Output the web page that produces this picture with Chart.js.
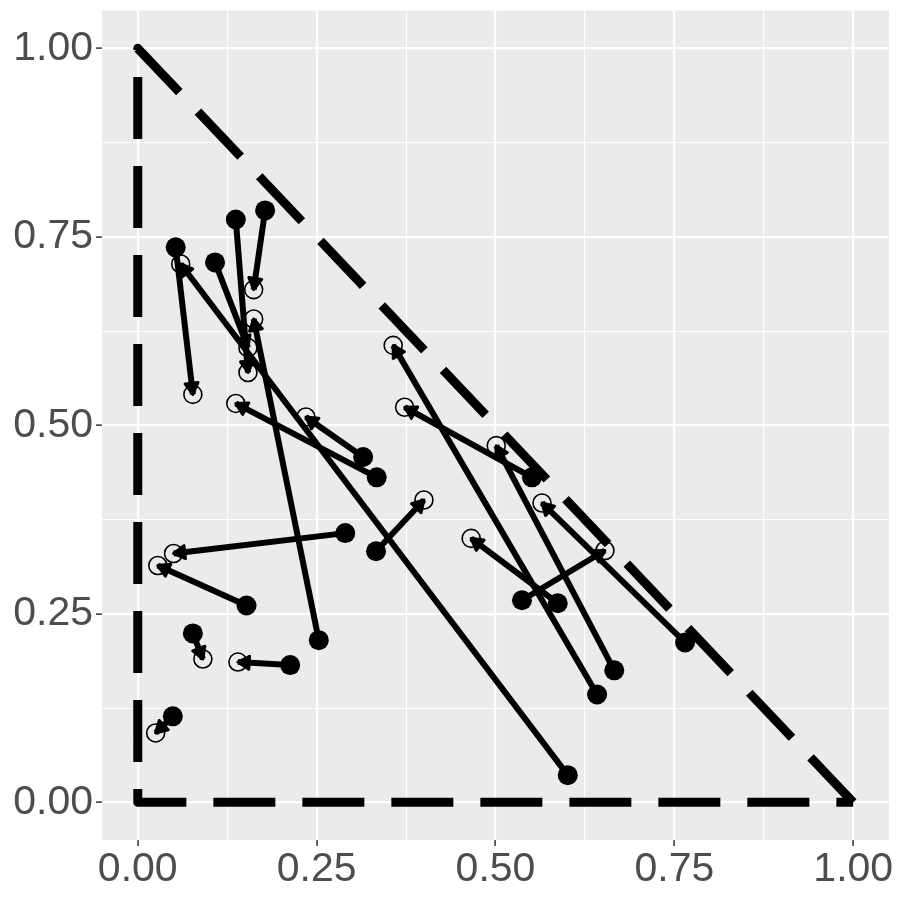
<!DOCTYPE html>
<html>
<head>
<meta charset="utf-8">
<script src="https://cdn.jsdelivr.net/npm/chart.js@4.4.1/dist/chart.umd.min.js"></script>
<style>
  body { margin: 0; background: #ffffff; }
</style>
</head>
<body>
<canvas id="arrowChart" width="900" height="900"></canvas>
<script>
// where each arrow starts (filled dots)
var fromX = [0.601, 0.053, 0.108, 0.137, 0.178, 0.253, 0.334, 0.315, 0.642, 0.551,
             0.666, 0.333, 0.587, 0.537, 0.765, 0.290, 0.152, 0.077, 0.213, 0.049];
var fromY = [0.036, 0.736, 0.716, 0.773, 0.785, 0.215, 0.431, 0.458, 0.143, 0.431,
             0.175, 0.333, 0.264, 0.268, 0.212, 0.357, 0.261, 0.224, 0.182, 0.114];
// where each arrow ends (open circles)
var toX = [0.060, 0.077, 0.154, 0.154, 0.162, 0.162, 0.137, 0.235, 0.357, 0.373,
           0.501, 0.400, 0.466, 0.653, 0.565, 0.050, 0.028, 0.091, 0.140, 0.025];
var toY = [0.714, 0.541, 0.603, 0.570, 0.680, 0.641, 0.529, 0.511, 0.606, 0.524,
           0.473, 0.401, 0.350, 0.334, 0.397, 0.330, 0.314, 0.190, 0.186, 0.092];

// simplex outline, one dashed path
var edgeX = [1, 0, 0, 1];
var edgeY = [0, 1, 0, 0];

var majorTicks = [0, 0.25, 0.5, 0.75, 1];
var minorTicks = [0.125, 0.375, 0.625, 0.875];
var tickLabels = ["0.00", "0.25", "0.50", "0.75", "1.00"];

function isMajor(v) {
  return majorTicks.some(function (m) { return Math.abs(m - v) < 1e-9; });
}

function toPoints(xs, ys) {
  return xs.map(function (x, i) { return { x: x, y: ys[i] }; });
}

var datasets = [];

datasets.push({
  type: "line",
  data: toPoints(edgeX, edgeY),
  borderColor: "#000000",
  borderWidth: 9,
  borderDash: [62, 27],
  borderCapStyle: "butt",
  borderJoinStyle: "round",
  pointRadius: 0,
  tension: 0,
  fill: false,
  order: 5,
});

for (var i = 0; i < fromX.length; i++) {
  datasets.push({
    type: "line",
    data: [{ x: fromX[i], y: fromY[i] }, { x: toX[i], y: toY[i] }],
    borderColor: "#000000",
    borderWidth: 6,
    borderCapStyle: "butt",
    pointRadius: 0,
    fill: false,
    order: 4,
  });
}

datasets.push({
  type: "scatter",
  data: toPoints(fromX, fromY),
  pointRadius: 10,
  pointBackgroundColor: "#000000",
  pointBorderWidth: 0,
  order: 3,
});

datasets.push({
  type: "scatter",
  data: toPoints(toX, toY),
  pointRadius: 9,
  pointBackgroundColor: "rgba(0,0,0,0)",
  pointBorderColor: "#000000",
  pointBorderWidth: 1.6,
  order: 2,
});

// grey panel behind everything
var panelBg = {
  id: "panelBg",
  beforeDraw: function (chart) {
    var a = chart.chartArea;
    var c = chart.ctx;
    c.save();
    c.fillStyle = "#EBEBEB";
    c.fillRect(a.left, a.top, a.right - a.left, a.bottom - a.top);
    c.restore();
  },
};

// closed arrow heads at the open-circle end
var arrowHeads = {
  id: "arrowHeads",
  afterDatasetsDraw: function (chart) {
    var xs = chart.scales.x;
    var ys = chart.scales.y;
    var c = chart.ctx;
    var len = 13;
    var half = Math.PI / 6;
    c.save();
    c.fillStyle = "#000000";
    c.strokeStyle = "#000000";
    c.lineWidth = 3;
    c.lineJoin = "round";
    for (var i = 0; i < toX.length; i++) {
      var x0 = xs.getPixelForValue(fromX[i]);
      var y0 = ys.getPixelForValue(fromY[i]);
      var x1 = xs.getPixelForValue(toX[i]);
      var y1 = ys.getPixelForValue(toY[i]);
      var a = Math.atan2(y1 - y0, x1 - x0);
      c.beginPath();
      c.moveTo(x1, y1);
      c.lineTo(x1 - len * Math.cos(a - half), y1 - len * Math.sin(a - half));
      c.lineTo(x1 - len * Math.cos(a + half), y1 - len * Math.sin(a + half));
      c.closePath();
      c.fill();
      c.stroke();
    }
    c.restore();
  },
};

function axisOptions(size) {
  return {
    type: "linear",
    min: -0.05,
    max: 1.05,
    afterBuildTicks: function (scale) {
      scale.ticks = majorTicks.concat(minorTicks)
        .sort(function (a, b) { return a - b; })
        .map(function (v) { return { value: v }; });
    },
    afterFit: function (scale) {
      size(scale);
      // labels sit well inside the expanded range, no extra margin needed
      scale.paddingTop = 0;
      scale.paddingBottom = 0;
      scale.paddingLeft = 0;
      scale.paddingRight = 0;
    },
    border: { display: false },
    grid: {
      color: "#FFFFFF",
      lineWidth: function (ctx) { return isMajor(ctx.tick.value) ? 2.2 : 1.1; },
      drawTicks: true,
      tickLength: 6,
      tickWidth: 1.5,
      tickColor: function (ctx) {
        return isMajor(ctx.tick.value) ? "#333333" : "rgba(0,0,0,0)";
      },
    },
    ticks: {
      autoSkip: false,
      maxRotation: 0,
      color: "#4D4D4D",
      font: { size: 41, lineHeight: 1 },
      padding: 3,
      callback: function (value) {
        var k = majorTicks.findIndex(function (m) { return Math.abs(m - value) < 1e-9; });
        return k >= 0 ? tickLabels[k] : "";
      },
    },
  };
}

Chart.defaults.font.family = "'Liberation Sans', Arial, sans-serif";

var ctx = document.getElementById("arrowChart");
var myChart = new Chart(ctx, {
  type: "scatter",
  data: { datasets: datasets },
  options: {
    responsive: false,
    animation: false,
    layout: { padding: { top: 10, right: 11, left: 0, bottom: 0 } },
    plugins: { legend: { display: false }, tooltip: { enabled: false } },
    scales: {
      x: axisOptions(function (scale) { scale.height = 60; }),
      y: axisOptions(function (scale) { scale.width = 102; }),
    },
  },
  plugins: [panelBg, arrowHeads],
});
</script>
</body>
</html>
